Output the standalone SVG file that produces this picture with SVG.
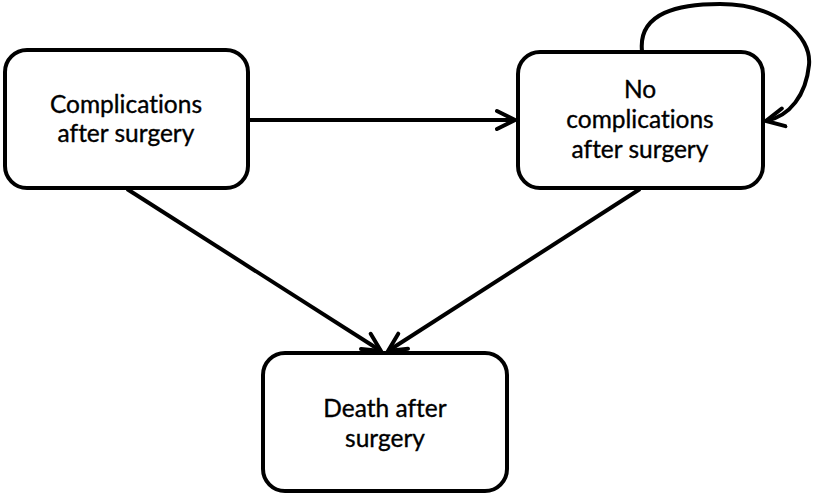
<svg xmlns="http://www.w3.org/2000/svg" width="813" height="494" viewBox="0 0 813 494">
<defs>
<style>
.box{fill:#fff;stroke:#000;stroke-width:4}
.lbl{font-family:Lato,"Liberation Sans",sans-serif;font-size:24.5px;fill:#000;stroke:#000;stroke-width:0.35;text-anchor:middle;font-variant-ligatures:none;font-feature-settings:"liga" 0}
.edge{fill:none;stroke:#000;stroke-width:4}
</style>
<marker id="arr" markerUnits="userSpaceOnUse" markerWidth="30" markerHeight="30" refX="20" refY="10" orient="auto" viewBox="0 0 30 20">
<path d="M2,1 L20,10 L2,19" fill="none" stroke="#000" stroke-width="4" stroke-linecap="round" stroke-linejoin="miter"/>
</marker>
</defs>
<rect width="813" height="494" fill="#fff"/>
<g id="connectors">
<line class="edge" x1="248" y1="120" x2="515" y2="120" marker-end="url(#arr)"/>
<line class="edge" x1="127" y1="189" x2="381" y2="351" marker-end="url(#arr)"/>
<line class="edge" x1="640" y1="189" x2="388" y2="351" marker-end="url(#arr)"/>
<path class="edge" d="M642,51 C638,12 680,4 720,4 C775,4 812,35 809,65 C806,95 790,116 766,121" marker-end="url(#arr)"/>
</g>
<g id="n1">
<rect class="box" x="5" y="50" width="243" height="138" rx="22"/>
<text class="lbl" x="126" y="113">Complications</text>
<text class="lbl" x="126" y="142">after surgery</text>
</g>
<g id="n2">
<rect class="box" x="518" y="52" width="245" height="136" rx="22"/>
<text class="lbl" x="640" y="98">No</text>
<text class="lbl" x="640" y="128">complications</text>
<text class="lbl" x="640" y="158">after surgery</text>
</g>
<g id="n3">
<rect class="box" x="263" y="353" width="244" height="138" rx="22"/>
<text class="lbl" x="385" y="417">Death after</text>
<text class="lbl" x="385" y="447">surgery</text>
</g>
</svg>
